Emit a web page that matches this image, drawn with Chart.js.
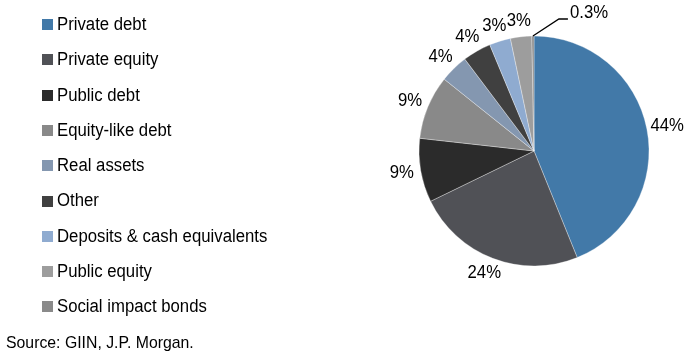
<!DOCTYPE html>
<html>
<head>
<meta charset="utf-8">
<script src="https://cdn.jsdelivr.net/npm/chart.js@4.4.1/dist/chart.umd.min.js"></script>
<style>
html,body{margin:0;padding:0;background:#fff;}
#wrap{position:relative;width:684px;height:352px;}
</style>
</head>
<body>
<div id="wrap"><canvas id="c" width="684" height="352"></canvas></div>
<script>
const categories = ["Private debt","Private equity","Public debt","Equity-like debt","Real assets","Other","Deposits & cash equivalents","Public equity","Social impact bonds"];
const shares = [44, 24, 9, 9, 4, 4, 3, 3, 0.3];
const sliceColors = ["#4279A8","#505156","#2B2B2B","#898989","#8497B0","#404040","#8FABD0","#9D9D9D","#8A8A8A"];
const sourceNote = "Source: GIIN, J.P. Morgan.";

const FONT = '"Liberation Sans", Arial, sans-serif';
const SX = 0.93;

function drawText(ctx, txt, x, y, align, size) {
  ctx.save();
  ctx.font = size + 'px ' + FONT;
  ctx.textBaseline = 'middle';
  ctx.textAlign = align;
  ctx.translate(x, y);
  ctx.scale(SX, 1);
  ctx.fillText(txt, 0, 0);
  ctx.restore();
}
function textWidth(ctx, txt, size) {
  ctx.save();
  ctx.font = size + 'px ' + FONT;
  const w = ctx.measureText(txt).width * SX;
  ctx.restore();
  return w;
}

const legendPlugin = {
  id: 'sideLegend',
  afterDraw(chart) {
    const ctx = chart.ctx;
    const ds = chart.data.datasets[0];
    ctx.save();
    chart.data.labels.forEach((lab, i) => {
      const yc = 24.5 + i * 35.3;
      ctx.fillStyle = ds.backgroundColor[i];
      ctx.fillRect(42, Math.round(yc - 5.5), 11, 11);
      ctx.fillStyle = '#000';
      drawText(ctx, lab, 57, yc + 0.5, 'left', 18);
    });
    ctx.fillStyle = '#000';
    drawText(ctx, sourceNote, 6, 343, 'left', 17);
    ctx.restore();
  }
};

const labelPlugin = {
  id: 'sliceLabels',
  afterDatasetsDraw(chart) {
    const ctx = chart.ctx;
    const meta = chart.getDatasetMeta(0);
    const vals = chart.data.datasets[0].data;
    ctx.save();
    ctx.fillStyle = '#000';
    meta.data.forEach((arc, i) => {
      const p = arc.getProps(['x','y','startAngle','endAngle','outerRadius'], true);
      const mid = (p.startAngle + p.endAngle) / 2;
      const ux = Math.cos(mid), uy = Math.sin(mid);
      const txt = vals[i] + '%';
      const w = textWidth(ctx, txt, 18);
      const hw = w / 2, hh = 9;
      if (vals[i] < 1) {
        const x0 = p.x + ux * p.outerRadius, y0 = p.y + uy * p.outerRadius;
        const x1 = x0 + 26, y1 = y0 - 17;
        ctx.strokeStyle = '#000';
        ctx.lineWidth = 1.3;
        ctx.beginPath();
        ctx.moveTo(x0, y0);
        ctx.lineTo(x1, y1);
        ctx.lineTo(x1 + 9, y1);
        ctx.stroke();
        drawText(ctx, txt, x1 + 11, y1 - 5.5, 'left', 18);
        return;
      }
      const d = p.outerRadius + 7;
      let cx = p.x + ux * d + hw * ux;
      let cy = p.y + uy * d + hh * uy;
      if (cx + hw > chart.width) cx = chart.width - hw;
      drawText(ctx, txt, cx, cy, 'center', 18);
    });
    ctx.restore();
  }
};

new Chart(document.getElementById('c'), {
  type: 'pie',
  data: {
    labels: categories,
    datasets: [{
      data: shares,
      backgroundColor: sliceColors,
      borderColor: 'rgba(255,255,255,0.55)',
      borderWidth: 0.6,
      radius: 115
    }]
  },
  options: {
    responsive: false,
    animation: false,
    layout: { padding: { left: 384, right: 0, top: 0, bottom: 50 } },
    plugins: { legend: { display: false }, tooltip: { enabled: false } }
  },
  plugins: [labelPlugin, legendPlugin]
});
</script>
</body>
</html>
